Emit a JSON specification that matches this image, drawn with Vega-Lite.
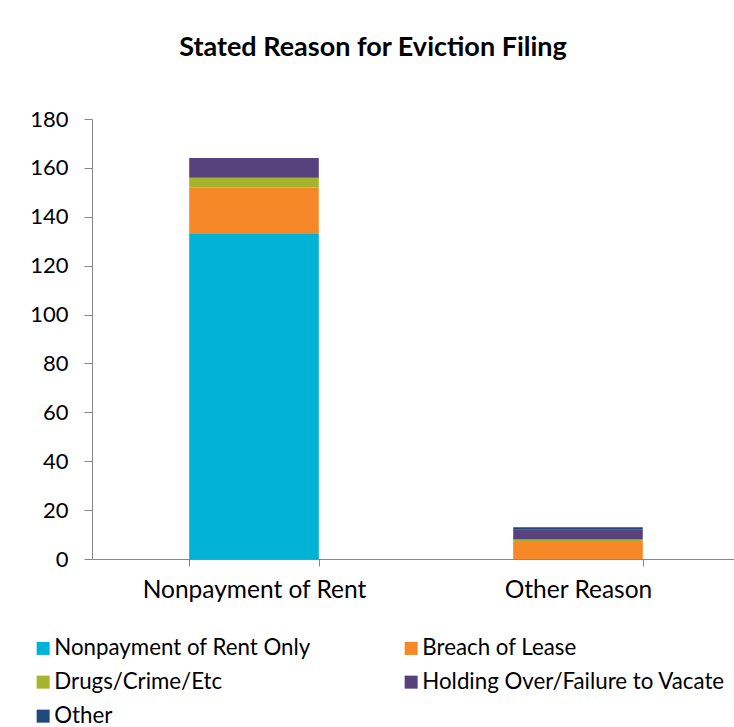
{
  "$schema": "https://vega.github.io/schema/vega-lite/v6.json",
  "autosize": "none",
  "padding": {"left": 92, "top": 119, "right": 0, "bottom": 168},
  "width": 648,
  "height": 440,
  "background": "white",
  "title": {
    "text": "Stated Reason for Eviction Filing",
    "font": "Lato",
    "fontSize": 27,
    "fontWeight": "bold",
    "color": "black",
    "anchor": "middle",
    "frame": "group",
    "dx": -43,
    "offset": 25,
    "baseline": "alphabetic"
  },
  "data": {
    "values": [
      {"reason": "Nonpayment of Rent", "type": "Nonpayment of Rent Only", "k": 1, "count": 133},
      {"reason": "Nonpayment of Rent", "type": "Breach of Lease", "k": 2, "count": 19},
      {"reason": "Nonpayment of Rent", "type": "Drugs/Crime/Etc", "k": 3, "count": 4},
      {"reason": "Nonpayment of Rent", "type": "Holding Over/Failure to Vacate", "k": 4, "count": 8},
      {"reason": "Nonpayment of Rent", "type": "Other", "k": 5, "count": 0},
      {"reason": "Other Reason", "type": "Nonpayment of Rent Only", "k": 1, "count": 0},
      {"reason": "Other Reason", "type": "Breach of Lease", "k": 2, "count": 7},
      {"reason": "Other Reason", "type": "Drugs/Crime/Etc", "k": 3, "count": 1},
      {"reason": "Other Reason", "type": "Holding Over/Failure to Vacate", "k": 4, "count": 4},
      {"reason": "Other Reason", "type": "Other", "k": 5, "count": 1}
    ]
  },
  "mark": {"type": "bar"},
  "encoding": {
    "x": {
      "field": "reason",
      "type": "nominal",
      "sort": null,
      "scale": {"paddingInner": 0.6, "paddingOuter": 0.3},
      "axis": {
        "title": null,
        "labelAngle": 0,
        "labelFont": "Lato",
        "labelFontSize": 24.5,
        "labelColor": "black",
        "labelPadding": 12,
        "labelLimit": 400,
        "domainColor": "#868686",
        "tickColor": "#868686",
        "tickSize": 7,
        "tickBand": "extent",
        "grid": false
      }
    },
    "y": {
      "field": "count",
      "type": "quantitative",
      "stack": "zero",
      "scale": {"domain": [0, 180], "nice": false},
      "axis": {
        "title": null,
        "values": [0, 20, 40, 60, 80, 100, 120, 140, 160, 180],
        "labelFont": "Lato",
        "labelFontSize": 22,
        "labelColor": "black",
        "labelPadding": 16,
        "domainColor": "#868686",
        "tickColor": "#868686",
        "tickSize": 8,
        "grid": false
      }
    },
    "color": {
      "field": "type",
      "type": "nominal",
      "scale": {
        "domain": ["Nonpayment of Rent Only", "Drugs/Crime/Etc", "Other", "Breach of Lease", "Holding Over/Failure to Vacate"],
        "range": ["#00B2D6", "#A4B42C", "#1F497D", "#F68828", "#58427E"]
      },
      "legend": {
        "title": null,
        "orient": "none",
        "legendX": -60,
        "legendY": 518,
        "columns": 2,
        "symbolType": "square",
        "symbolSize": 169,
        "symbolStrokeWidth": 0,
        "labelFont": "Lato",
        "labelFontSize": 22.3,
        "labelColor": "black",
        "labelOffset": 0,
        "rowPadding": 11,
        "columnPadding": 89,
        "labelLimit": 400
      }
    },
    "order": {"field": "k", "type": "quantitative", "sort": "ascending"}
  },
  "config": {"view": {"stroke": null}}
}
